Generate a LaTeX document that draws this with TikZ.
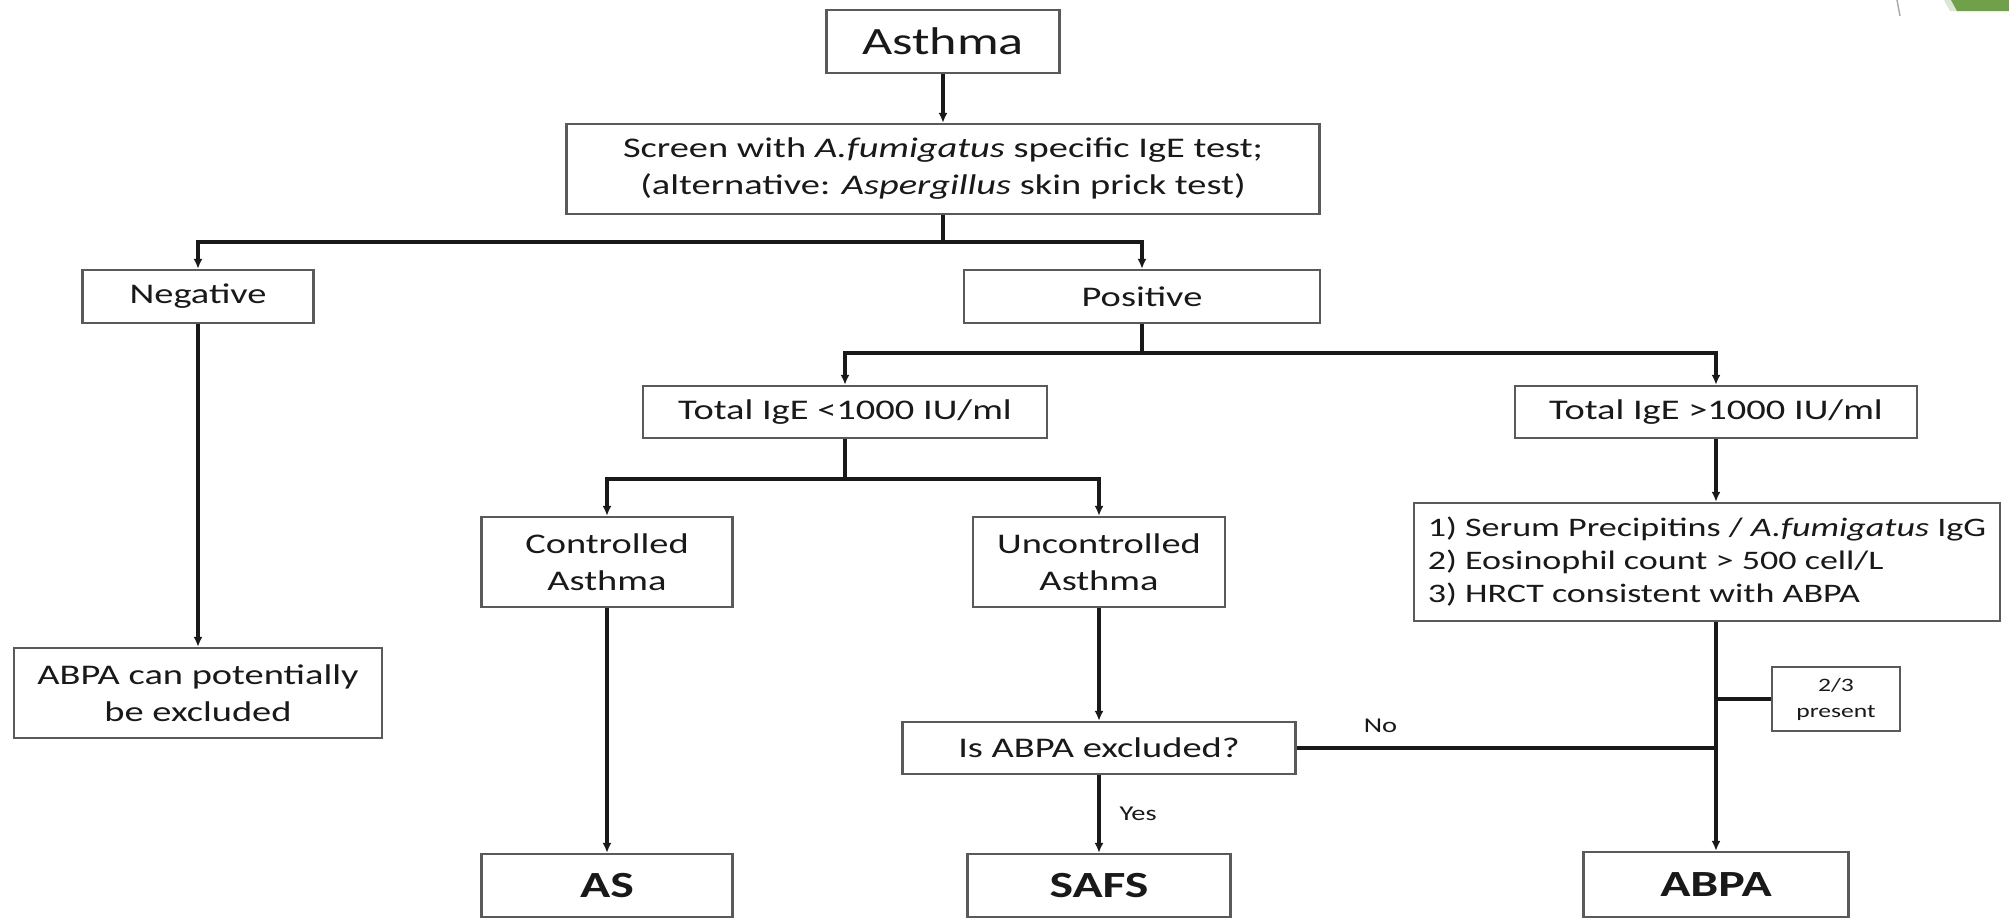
\documentclass[tikz,border=0pt]{standalone}
\usepackage{fontspec}
\setmainfont{Carlito}[FakeStretch=1.35]
\usetikzlibrary{arrows.meta,positioning}
\definecolor{boxgray}{RGB}{90,90,90}
\definecolor{inkblack}{RGB}{25,25,25}
\definecolor{slidegreen}{RGB}{112,160,74}
\tikzset{
  fbox/.style={rectangle, draw=boxgray, line width=0.65pt, fill=white, inner sep=0pt, align=center, text=inkblack, font=\fontsize{8.1}{10.5}\selectfont},
  fboxbig/.style={fbox, font=\fontsize{11}{13}\selectfont},
  fboxend/.style={fbox, font=\fontsize{10.5}{12}\selectfont\bfseries},
  fboxlist/.style={fbox, align=left, font=\fontsize{7.6}{9.4}\selectfont},
  fboxtiny/.style={fbox, font=\fontsize{5.4}{7.4}\selectfont},
  fline/.style={line width=0.9pt, inkblack},
  farrow/.style={fline, -{Latex[length=1mm,width=0.9mm]}},
  flabel/.style={font=\fontsize{6}{7}\selectfont, text=inkblack, inner sep=0pt}
}

\begin{document}
\begin{tikzpicture}[x=0.1mm, y=-0.1mm]
\useasboundingbox (0,0) rectangle (2009,920);
% slide corner
\draw[black!35, line width=0.4pt] (1897,0) -- (1900,16);
\fill[slidegreen!25] (1944,0) -- (2009,0) -- (2009,11) -- (1950,11) -- cycle;
\fill[slidegreen] (1951,0) -- (2009,0) -- (2009,11) -- (1957,11) -- cycle;

% boxes
\node[fboxbig, minimum width=23.3mm, minimum height=6.3mm] (asthma) at (943,41.5) {Asthma};
\node[fbox, minimum width=75.3mm, minimum height=9mm] (screen) at (943,169) {Screen with \textit{A.fumigatus} specific IgE test;\\(alternative: \textit{Aspergillus} skin prick test)};
\node[fbox, minimum width=23.1mm, minimum height=5.3mm] (negative) at (198,296.5) {Negative};
\node[fbox, minimum width=35.6mm, minimum height=5.3mm] (positive) at (1142,296.5) {Positive};
\node[fbox, minimum width=40.4mm, minimum height=5.2mm] (igelow) at (845,412) {Total IgE <1000 IU/ml};
\node[fbox, minimum width=40.2mm, minimum height=5.2mm] (igehigh) at (1716,412) {Total IgE >1000 IU/ml};
\node[fbox, minimum width=25.1mm, minimum height=9mm] (controlled) at (607,562) {Controlled\\Asthma};
\node[fbox, minimum width=25.2mm, minimum height=9mm] (uncontrolled) at (1099,562) {Uncontrolled\\Asthma};
\node[fboxlist, minimum width=58.6mm, minimum height=11.8mm] (criteria) at (1707,562) {1) Serum Precipitins / \textit{A.fumigatus} IgG\\2) Eosinophil count > 500 cell/L\\3) HRCT consistent with ABPA};
\node[fbox, minimum width=36.8mm, minimum height=9mm] (excluded) at (198,693) {ABPA can potentially\\be excluded};
\node[fbox, minimum width=39.3mm, minimum height=5.2mm] (isabpa) at (1099,748) {Is ABPA excluded?};
\node[fboxtiny, minimum width=12.8mm, minimum height=6.4mm] (present) at (1836,699) {2/3\\present};
\node[fboxend, minimum width=25.1mm, minimum height=6.3mm] (as) at (607,885.5) {AS};
\node[fboxend, minimum width=26.3mm, minimum height=6.3mm] (safs) at (1099,885.5) {SAFS};
\node[fboxend, minimum width=26.5mm, minimum height=6.5mm] (abpa) at (1716,884.5) {ABPA};

% split points
\coordinate (splitscreen) at (943,242);
\coordinate (splitpos) at (1142,353);
\coordinate (splitlow) at (845,479);
\coordinate (tap) at (1716,699);
\coordinate (join) at (1716,748);

% connectors
\draw[farrow] (asthma) -- (screen);
\draw[fline] (screen) -- (splitscreen);
\draw[farrow] (splitscreen) -| (negative.north);
\draw[farrow] (splitscreen) -| (positive.north);
\draw[farrow] (negative) -- (excluded);
\draw[fline] (positive) -- (splitpos);
\draw[farrow] (splitpos) -| (igelow.north);
\draw[farrow] (splitpos) -| (igehigh.north);
\draw[fline] (igelow) -- (splitlow);
\draw[farrow] (splitlow) -| (controlled.north);
\draw[farrow] (splitlow) -| (uncontrolled.north);
\draw[farrow] (controlled) -- (as);
\draw[farrow] (uncontrolled) -- (isabpa);
\draw[farrow] (isabpa) -- node[flabel, right=1.9mm] (yes) {Yes} (safs);
\draw[farrow] (igehigh) -- (igehigh |- criteria.north);
\draw[farrow] (igehigh |- criteria.south) -- (abpa);
\draw[fline] (tap) -- (present);
\draw[fline] (isabpa) -- node[flabel, above=1.4mm, pos=0.2] (no) {No} (join);
\end{tikzpicture}
\end{document}
